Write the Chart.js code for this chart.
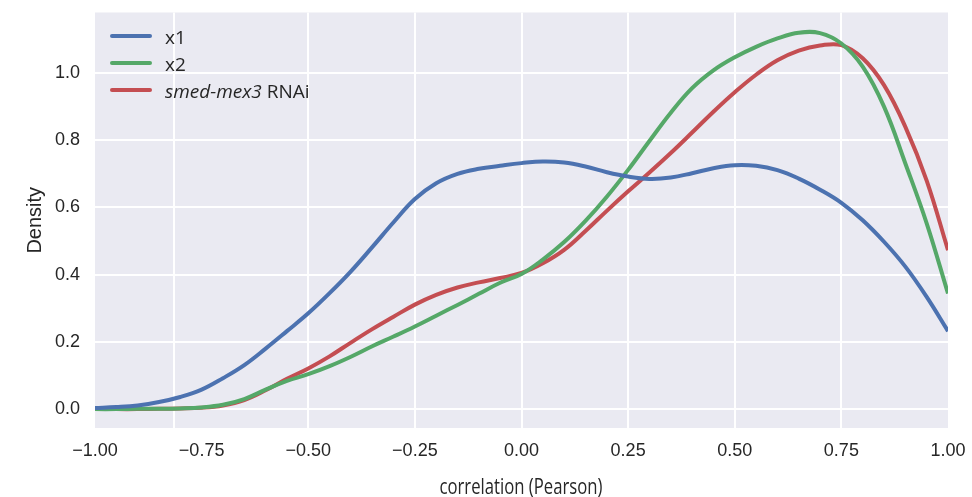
<!DOCTYPE html>
<html>
<head>
<meta charset="utf-8">
<script src="https://cdn.jsdelivr.net/npm/chart.js@4.4.0/dist/chart.umd.min.js"></script>
<style>
  html, body { margin: 0; padding: 0; background: #fff; }
  #wrap { position: relative; width: 972px; height: 497px; }
  #xlabel {
    position: absolute; left: 521px; top: 486px;
    font-family: "Liberation Sans Narrow", "Open Sans", sans-serif;
    font-size: 21px; color: #262626; white-space: nowrap;
    transform-origin: center center;
  }
</style>
</head>
<body>
<div id="wrap">
  <canvas id="kde-chart" width="972" height="497"></canvas>
  <div id="xlabel">correlation (Pearson)</div>
</div>
<script>
// Data
const xValues = [-1.00, -0.95, -0.90, -0.85, -0.80, -0.75, -0.70, -0.65, -0.60, -0.55,
  -0.50, -0.45, -0.40, -0.35, -0.30, -0.25, -0.20, -0.15, -0.10, -0.05,
  0.00, 0.05, 0.10, 0.15, 0.20, 0.25, 0.30, 0.35, 0.40, 0.45,
  0.50, 0.55, 0.60, 0.65, 0.70, 0.75, 0.80, 0.85, 0.90, 0.95, 1.00];

const x1Density = [0.003, 0.006, 0.011, 0.021, 0.036, 0.058, 0.092, 0.131, 0.180, 0.232,
  0.285, 0.345, 0.410, 0.482, 0.556, 0.625, 0.672, 0.700, 0.715, 0.724,
  0.732, 0.737, 0.734, 0.722, 0.705, 0.692, 0.685, 0.689, 0.702, 0.717,
  0.726, 0.724, 0.711, 0.686, 0.653, 0.614, 0.562, 0.498, 0.424, 0.334, 0.232];

const x2Density = [0.000, 0.000, 0.001, 0.001, 0.002, 0.005, 0.013, 0.030, 0.058, 0.084,
  0.104, 0.128, 0.156, 0.187, 0.216, 0.246, 0.278, 0.310, 0.343, 0.376,
  0.402, 0.445, 0.497, 0.560, 0.632, 0.712, 0.798, 0.882, 0.955, 1.008,
  1.047, 1.078, 1.103, 1.120, 1.119, 1.088, 1.019, 0.900, 0.731, 0.553, 0.344];

const mex3Density = [0.000, 0.000, 0.000, 0.001, 0.002, 0.004, 0.011, 0.027, 0.056, 0.090,
  0.121, 0.157, 0.198, 0.238, 0.275, 0.311, 0.340, 0.362, 0.377, 0.390,
  0.405, 0.434, 0.474, 0.530, 0.590, 0.648, 0.704, 0.762, 0.823, 0.885,
  0.943, 0.995, 1.038, 1.067, 1.082, 1.083, 1.044, 0.964, 0.840, 0.680, 0.473];

const xTicks = [-1.00, -0.75, -0.50, -0.25, 0.00, 0.25, 0.50, 0.75, 1.00];
const xGridLines = [-0.815, -0.50, -0.25, 0.00, 0.25, 0.50, 0.75];
const yTicks = [0.0, 0.2, 0.4, 0.6, 0.8, 1.0];

// Legend text, with the italic parts marked
const legendLabels = [
  [['x1', false]],
  [['x2', false]],
  [['smed-mex3', true], [' RNAi', false]]
];

const colors = ['#4C72B0', '#55A868', '#C44E52'];
const textColor = '#262626';

function toPoints(ys) {
  return xValues.map((x, i) => ({ x: x, y: ys[i] }));
}

// Grey plot background
const backgroundPlugin = {
  id: 'plotBackground',
  beforeDraw(chart) {
    const { ctx, chartArea } = chart;
    ctx.save();
    ctx.fillStyle = '#EAEAF2';
    ctx.fillRect(chartArea.left, chartArea.top, chartArea.right - chartArea.left, chartArea.bottom - chartArea.top);
    ctx.restore();
  }
};

// Legend drawn by hand so part of a label can be italic
const legendPlugin = {
  id: 'mixedLegend',
  afterDraw(chart) {
    const ctx = chart.ctx;
    chart.data.datasets.forEach((ds, i) => {
      const y = 36 + i * 27;
      ctx.save();
      ctx.strokeStyle = ds.borderColor;
      ctx.lineWidth = 4;
      ctx.lineCap = 'round';
      ctx.beginPath();
      ctx.moveTo(112, y);
      ctx.lineTo(150, y);
      ctx.stroke();
      ctx.fillStyle = textColor;
      ctx.textBaseline = 'alphabetic';
      let x = 165;
      legendLabels[i].forEach(([text, italic]) => {
        ctx.font = (italic ? 'italic ' : '') + '19px "Open Sans"';
        ctx.fillText(text, x, y + 7.5);
        x += ctx.measureText(text).width;
      });
      ctx.restore();
    });
  }
};

const ctx = document.getElementById('kde-chart').getContext('2d');
const labels = legendLabels.map(parts => parts.map(p => p[0]).join(''));

// Drop the extra room Chart.js keeps for edge tick labels
function noEdgePadding(scale) {
  scale.paddingTop = 0;
  scale.paddingBottom = 0;
  scale.paddingLeft = 0;
  scale.paddingRight = 0;
}

new Chart(ctx, {
  type: 'line',
  data: {
    datasets: [x1Density, x2Density, mex3Density].map((ys, i) => ({
      label: labels[i],
      data: toPoints(ys),
      borderColor: colors[i],
      borderWidth: 4,
      pointRadius: 0,
      fill: false,
      tension: 0.4
    }))
  },
  options: {
    responsive: false,
    animation: false,
    layout: { padding: { left: 0, right: 24, top: 12.5, bottom: 0 } },
    plugins: {
      legend: { display: false },
      tooltip: { enabled: false }
    },
    scales: {
      x: {
        type: 'linear',
        position: 'bottom',
        min: -1,
        max: 1,
        border: { display: false },
        grid: { display: false },
        afterBuildTicks: scale => { scale.ticks = xTicks.map(v => ({ value: v })); },
        afterFit: scale => { scale.height = 69; noEdgePadding(scale); },
        ticks: {
          padding: 4,
          maxRotation: 0,
          color: textColor,
          font: { family: 'Liberation Sans', size: 18 },
          callback: v => (v < 0 ? '\u2212' : '') + Math.abs(v).toFixed(2)
        }
      },
      xg: {
        type: 'linear',
        position: 'bottom',
        min: -1,
        max: 1,
        border: { display: false },
        grid: { color: '#ffffff', lineWidth: 2, drawTicks: false },
        afterBuildTicks: scale => { scale.ticks = xGridLines.map(v => ({ value: v })); },
        afterFit: scale => { scale.height = 0; noEdgePadding(scale); },
        ticks: { display: false }
      },
      y: {
        min: -0.0562,
        max: 1.1802,
        border: { display: false },
        grid: { color: '#ffffff', lineWidth: 2, drawTicks: false },
        afterBuildTicks: scale => { scale.ticks = yTicks.map(v => ({ value: v })); },
        afterFit: scale => { scale.width = 95; noEdgePadding(scale); },
        ticks: {
          padding: 15,
          color: textColor,
          font: { family: 'Liberation Sans', size: 18 },
          callback: v => v.toFixed(1)
        },
        title: {
          display: true,
          text: 'Density',
          color: textColor,
          font: { family: 'Liberation Sans', size: 20 },
          padding: { top: 23, bottom: 0 }
        }
      }
    }
  },
  plugins: [backgroundPlugin, legendPlugin]
});

// Squeeze the x label to the width it has in the picture
const xlabel = document.getElementById('xlabel');
const w = xlabel.offsetWidth, h = xlabel.offsetHeight;
xlabel.style.transform = `translate(${-w / 2}px, ${-h / 2}px) scaleX(${163 / w})`;
</script>
</body>
</html>
